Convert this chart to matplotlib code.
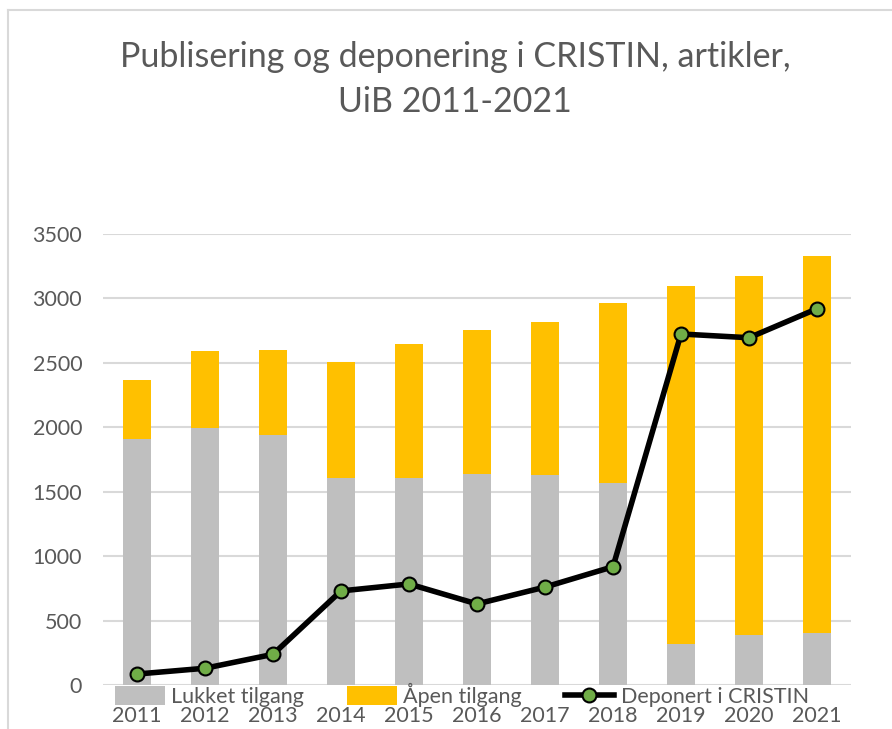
import numpy as np
import matplotlib
matplotlib.use("Agg")
import matplotlib.pyplot as plt
from matplotlib.lines import Line2D

years = ["2011", "2012", "2013", "2014", "2015", "2016",
         "2017", "2018", "2019", "2020", "2021"]
lukket = [1910, 1994, 1940, 1606, 1606, 1637, 1630, 1570, 316, 386, 401]
total = [2367, 2592, 2600, 2507, 2646, 2755, 2817, 2964, 3096, 3172, 3332]
aapen = [t - l for t, l in zip(total, lukket)]
deponert = [85, 130, 238, 730, 784, 629, 760, 918, 2724, 2695, 2920]
yticks = [0, 500, 1000, 1500, 2000, 2500, 3000, 3500]

GREY = "#BFBFBF"
YELLOW = "#FFC000"
GREEN = "#70AD47"
TEXT = "#595959"
GRID = "#D9D9D9"

plt.rcParams["font.family"] = ["Lato", "DejaVu Sans"]

W, H = 892, 729
fig = plt.figure(figsize=(W / 100, H / 100), dpi=100)

# frame of the chart area (only left/top visible in the crop)
fig.add_artist(Line2D([8 / W, 8 / W], [0, 1 - 10 / H], transform=fig.transFigure,
                      color=GRID, lw=1.5))
fig.add_artist(Line2D([8 / W, 1], [1 - 10 / H, 1 - 10 / H], transform=fig.transFigure,
                      color=GRID, lw=1.5))

ax = fig.add_axes([103 / W, 1 - 685 / H, (851 - 103) / W, (685 - 234) / H])
x = np.arange(len(years))
b1 = ax.bar(x, lukket, width=0.4, color=GREY, label="Lukket tilgang", zorder=2)
b2 = ax.bar(x, aapen, width=0.4, bottom=lukket, color=YELLOW, label="Åpen tilgang", zorder=2)
ln, = ax.plot(x, deponert, color="black", lw=4, marker="o", ms=10,
              markerfacecolor=GREEN, markeredgecolor="black", markeredgewidth=1.5,
              label="Deponert i CRISTIN", zorder=3)

ax.set_xlim(-0.5, len(years) - 0.5)
ax.set_ylim(0, 3500)
ax.set_yticks(yticks)
ax.set_yticklabels([str(v) for v in yticks])
ax.set_xticks(x)
ax.set_xticklabels(years)
ax.tick_params(axis="both", length=0, labelsize=15.5, colors=TEXT)
ax.tick_params(axis="y", pad=15)
ax.tick_params(axis="x", pad=15)
ax.grid(axis="y", color=GRID, lw=1.5, zorder=0)
for s in ax.spines.values():
    s.set_visible(False)
ax.set_axisbelow(True)

fig.text(455 / W, 1 - 57 / H, "Publisering og deponering i CRISTIN, artikler,",
         ha="center", va="center", fontsize=24.5, color=TEXT)
fig.text(455 / W, 1 - 102 / H, "UiB 2011-2021",
         ha="center", va="center", fontsize=24.5, color=TEXT)

ax.legend(handles=[b1, b2, ln], loc="center", bbox_to_anchor=(462 / W, 1 - 695 / H),
          bbox_transform=fig.transFigure, ncol=3, frameon=False,
          fontsize=15.5, labelcolor=TEXT, handlelength=2.3, handleheight=1.0,
          columnspacing=2.0, handletextpad=0.3, borderpad=0)

fig.savefig("out.png", dpi=100)
